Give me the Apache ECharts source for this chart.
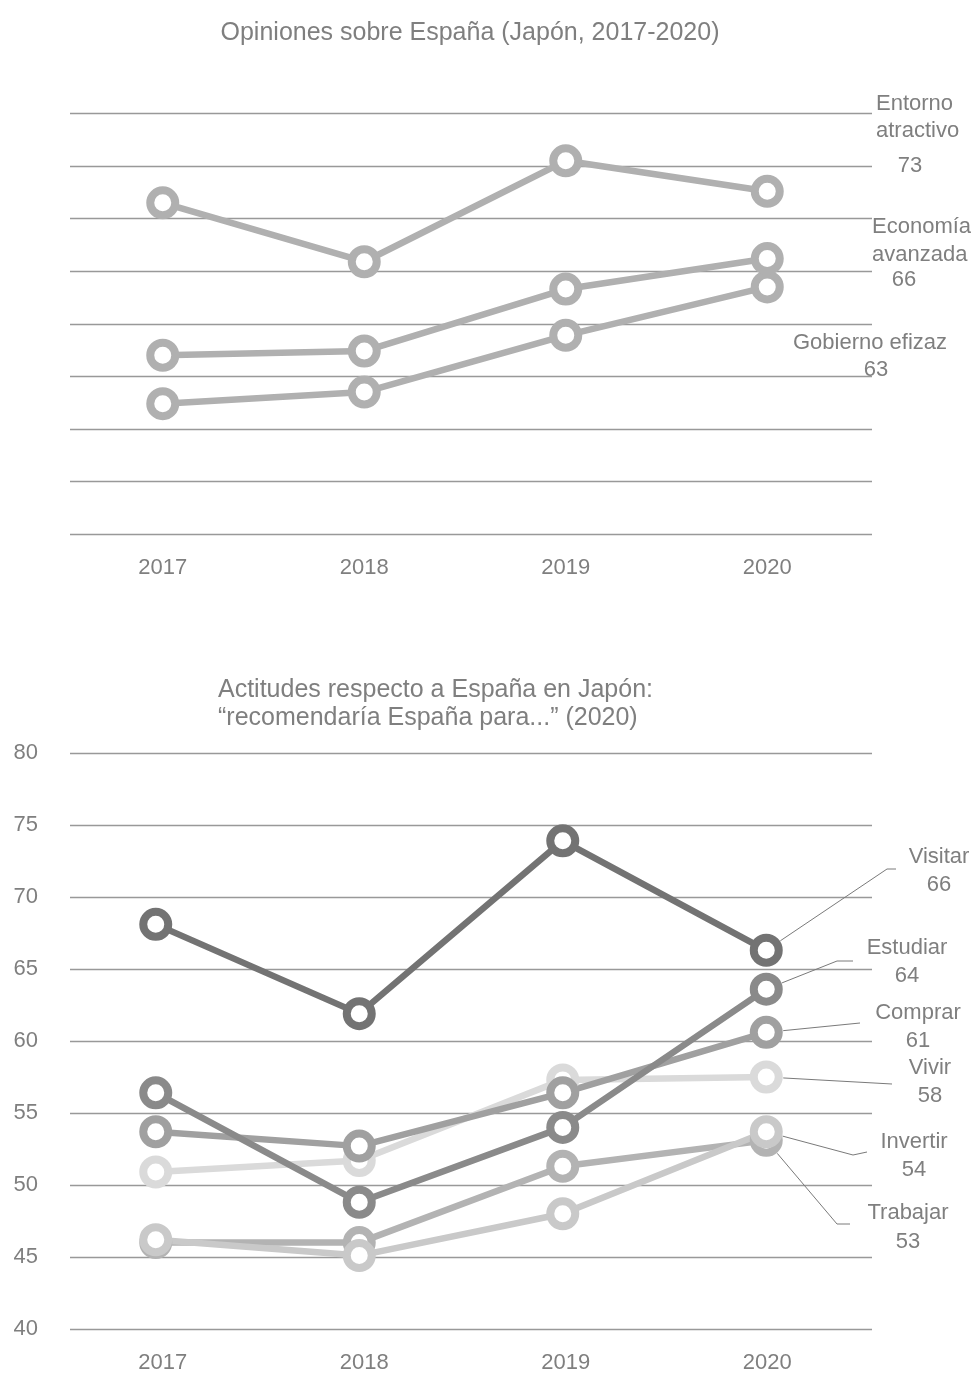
<!DOCTYPE html>
<html>
<head>
<meta charset="utf-8">
<script src="https://cdn.jsdelivr.net/npm/echarts@6/dist/echarts.min.js"></script>
<style>
html,body{margin:0;padding:0;background:#fff;}
#chart{width:976px;height:1374px;}
</style>
</head>
<body>
<div id="chart"></div>
<script>
// ---------- DATA ----------
const years = ['2017', '2018', '2019', '2020'];

// Top chart: Opiniones sobre España
const entornoAtractivo = [71.5, 65.9, 75.5, 72.6];
const economiaAvanzada = [57.0, 57.4, 63.3, 66.2];
const gobiernoEficaz   = [52.4, 53.5, 58.9, 63.5];
const topNames = ['Entorno atractivo', 'Economía avanzada', 'Gobierno efizaz'];
const topLabelValues = [73, 66, 63];

// Bottom chart: "recomendaría España para..."
const visitar  = [68.1, 61.9, 73.9, 66.3];
const estudiar = [56.4, 48.8, 54.0, 63.6];
const comprar  = [53.7, 52.7, 56.4, 60.6];
const vivir    = [50.9, 51.7, 57.3, 57.5];
const invertir = [46.2, 45.1, 48.0, 53.7];
const trabajar = [46.0, 46.0, 51.3, 53.1];
const bottomNames = ['Visitar', 'Estudiar', 'Comprar', 'Vivir', 'Invertir', 'Trabajar'];
const bottomLabelValues = [66, 64, 61, 58, 54, 53];

const yTicksMin = 40, yTicksMax = 80, yTicksStep = 5;

// ---------- STYLE / LAYOUT ----------
const FONT = "'Liberation Sans', Arial, Helvetica, sans-serif";
const TXT = '#7f7f7f';
const GRID = '#999999';

const chart = echarts.init(document.getElementById('chart'), null, {renderer: 'canvas'});

function mkSeries(name, data, color, xi, yi) {
  return {
    name: name, type: 'line', data: data,
    xAxisIndex: xi, yAxisIndex: yi,
    symbol: 'circle', symbolSize: 25, showAllSymbol: true,
    lineStyle: {color: color, width: 6.5},
    itemStyle: {color: '#ffffff', borderColor: color, borderWidth: 8},
    emphasis: {disabled: true},
    silent: true
  };
}

const topGridBox = {top: 113.5, height: 420.5};
const botGridBox = {top: 753, height: 576};

const yBase = {type: 'value', min: yTicksMin, max: yTicksMax, interval: yTicksStep};

const option = {
  animation: false,
  backgroundColor: '#ffffff',
  grid: [
    Object.assign({left: 70, right: 104}, topGridBox),   // 0 top lines
    Object.assign({left: 62, right: 108}, topGridBox),   // 1 top data
    Object.assign({left: 70, right: 104}, botGridBox),   // 2 bottom lines + y labels
    Object.assign({left: 54, right: 108}, botGridBox),   // 3 bottom data
    Object.assign({left: 62, right: 108}, botGridBox)    // 4 bottom x labels
  ],
  xAxis: [0, 1, 2, 3, 4].map(function (g) {
    const showLabels = (g === 1 || g === 4);
    return {
      type: 'category', data: years, gridIndex: g, boundaryGap: true,
      axisLine: {show: false}, axisTick: {show: false},
      axisLabel: {show: showLabels, color: TXT, fontSize: 22, fontFamily: FONT, margin: 23},
      splitLine: {show: false}
    };
  }),
  yAxis: [0, 1, 2, 3, 4].map(function (g) {
    return Object.assign({}, yBase, {
      gridIndex: g,
      axisLine: {show: false}, axisTick: {show: false},
      axisLabel: {show: g === 2, color: TXT, fontSize: 22, fontFamily: FONT, margin: 32},
      splitLine: {show: (g === 0 || g === 2), lineStyle: {color: GRID, width: 1.3}}
    });
  }),
  series: [
    mkSeries(topNames[2], gobiernoEficaz, '#b0b0b0', 1, 1),
    mkSeries(topNames[1], economiaAvanzada, '#b0b0b0', 1, 1),
    mkSeries(topNames[0], entornoAtractivo, '#b0b0b0', 1, 1),
    mkSeries('Vivir', vivir, '#dadada', 3, 3),
    mkSeries('Trabajar', trabajar, '#b3b3b3', 3, 3),
    mkSeries('Invertir', invertir, '#c9c9c9', 3, 3),
    mkSeries('Comprar', comprar, '#a0a0a0', 3, 3),
    mkSeries('Estudiar', estudiar, '#8a8a8a', 3, 3),
    mkSeries('Visitar', visitar, '#737373', 3, 3)
  ]
};
chart.setOption(option);

// ---------- ANNOTATIONS ----------
function txt(text, x, y, align, size) {
  return {
    type: 'text', silent: true,
    style: {text: text, x: x, y: y, align: align || 'center', verticalAlign: 'middle',
            fill: TXT, font: (size || 22) + 'px ' + FONT}
  };
}
const g = [];
// titles
g.push(txt('Opiniones sobre España (Japón, 2017-2020)', 470, 33, 'center', 25));
g.push(txt('Actitudes respecto a España en Japón:', 218, 690, 'left', 25));
g.push(txt('“recomendaría España para...” (2020)', 218, 718, 'left', 25));

// top chart end labels (layout positions)
g.push(txt('Entorno', 876, 104, 'left'));
g.push(txt('atractivo', 876, 131, 'left'));
g.push(txt(String(topLabelValues[0]), 910, 166, 'center'));
g.push(txt('Economía', 872, 227, 'left'));
g.push(txt('avanzada', 872, 255, 'left'));
g.push(txt(String(topLabelValues[1]), 904, 280, 'center'));
g.push(txt(topNames[2], 793, 343, 'left'));
g.push(txt(String(topLabelValues[2]), 876, 370, 'center'));

// bottom chart labels with leader lines
const botSeriesIdx = {Visitar: 8, Estudiar: 7, Comprar: 6, Vivir: 3, Invertir: 5, Trabajar: 4};
const botSeriesData = {Visitar: visitar, Estudiar: estudiar, Comprar: comprar, Vivir: vivir, Invertir: invertir, Trabajar: trabajar};
// [labelX, nameY, valueY, elbowX, elbowY, endX, endY]
const botLayout = {
  Visitar:  [939,  857,  885, 887, 869, 896, 869],
  Estudiar: [907,  948,  976, 837, 961, 853, 961],
  Comprar:  [918, 1013, 1041, 860, 1023, 860, 1023],
  Vivir:    [930, 1068, 1096, 892, 1084, 892, 1084],
  Invertir: [914, 1142, 1170, 853, 1155, 867, 1152],
  Trabajar: [908, 1213, 1242, 837, 1224, 850, 1224]
};
bottomNames.forEach(function (name, i) {
  const L = botLayout[name];
  const d = botSeriesData[name];
  const p = chart.convertToPixel({seriesIndex: botSeriesIdx[name]}, [3, d[3]]);
  const dx = L[3] - p[0], dy = L[4] - p[1];
  const len = Math.sqrt(dx * dx + dy * dy) || 1;
  const sx = p[0] + dx / len * 17, sy = p[1] + dy / len * 17;
  g.push({
    type: 'polyline', silent: true, z: 100,
    shape: {points: [[sx, sy], [L[3], L[4]], [L[5], L[6]]]},
    style: {stroke: '#7a7a7a', lineWidth: 1, fill: null}
  });
  g.push(txt(name, L[0], L[1], 'center'));
  g.push(txt(String(bottomLabelValues[i]), L[0], L[2], 'center'));
});

chart.setOption({graphic: g});
</script>
</body>
</html>
